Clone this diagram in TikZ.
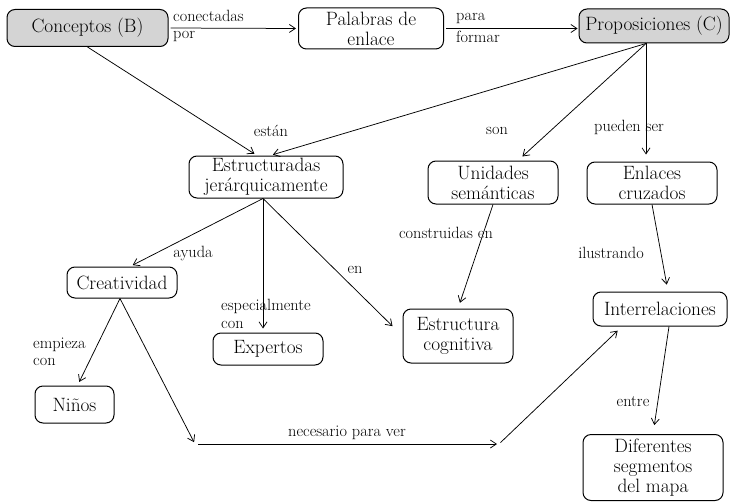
\documentclass[tikz,border=0pt]{standalone}
\usepackage{fontspec}
\usetikzlibrary{arrows.meta}

\begin{document}
\begin{tikzpicture}[x=1pt,y=-1pt,every node/.style={inner sep=1pt},
  box/.style={draw,rounded corners=8pt,line width=1pt,align=center,font=\fontsize{19.3}{20}\selectfont},
  keybox/.style={box,fill=black!17},
  lbl/.style={font=\fontsize{16.3}{17.5}\selectfont,align=left},
  arr/.style={-{Straight Barb[length=6pt,width=8pt]},line width=0.75pt}]
\useasboundingbox (0,0) rectangle (735,503);
\node[keybox,minimum width=161pt,minimum height=37pt] (conB) at (87.5,28) {Conceptos (B)};
\node[box,minimum width=145pt,minimum height=41pt] (palabras) at (371,28.5) {Palabras de\\enlace};
\node[keybox,minimum width=150pt,minimum height=34pt] (propC) at (654,26) {Proposiciones (C)};
\node[box,minimum width=154pt,minimum height=42pt] (estruct) at (266,177) {Estructuradas\\jerárquicamente};
\node[box,minimum width=130pt,minimum height=43pt] (unidades) at (493,182.5) {Unidades\\semánticas};
\node[box,minimum width=130pt,minimum height=42pt] (enlaces) at (652,183) {Enlaces\\cruzados};
\node[box,minimum width=110pt,minimum height=31pt] (creat) at (122,282.5) {Creatividad};
\node[box,minimum width=110pt,minimum height=32pt] (expertos) at (268,349) {Expertos};
\node[box,minimum width=110pt,minimum height=54pt] (cognitiva) at (458,336) {Estructura\\cognitiva};
\node[box,minimum width=134pt,minimum height=34pt] (interrel) at (660,309) {Interrelaciones};
\node[box,minimum width=79pt,minimum height=37pt] (ninos) at (74.5,404.5) {Niños};
\node[box,minimum width=140pt,minimum height=66pt] (diferentes) at (653,467.5) {Diferentes\\segmentos\\del mapa};

\coordinate (pc) at ([xshift=-8pt]propC.south);
\coordinate (es) at ([xshift=-3pt]estruct.south);
\coordinate (cs) at ([xshift=-2pt]creat.south);
\coordinate (nA) at (195,444);
\coordinate (nB) at (499,444);

\draw[arr,shorten <=2pt,shorten >=2pt] (conB.east) -- (palabras.west);
\draw[arr,shorten <=2pt,shorten >=1pt] (palabras.east) -- (palabras.east -| propC.west);
\draw[arr,shorten >=3pt] (conB.south) -- ([xshift=-9pt]estruct.north);
\draw[arr,shorten >=3pt] (pc) -- ([xshift=4pt]estruct.north);
\draw[arr,shorten >=6pt] (pc) -- ([xshift=25pt]unidades.north);
\draw[arr,shorten >=7pt] (pc) -- (pc |- enlaces.north);
\draw[arr,shorten >=3pt] (es) -- ([xshift=8pt]creat.north);
\draw[arr,shorten >=4pt] (es) -- (es |- expertos.north);
\draw[arr,shorten >=14pt] (es) -- (cognitiva.west);
\draw[arr,shorten >=6pt] (unidades.south) -- (cognitiva.north);
\draw[arr,shorten >=7pt] (enlaces.south) -- ([xshift=8pt]interrel.north);
\draw[arr,shorten >=9pt] ([xshift=9pt]interrel.south) -- (diferentes.north);
\draw[arr,shorten >=4pt] (cs) -- ([xshift=3pt]ninos.north);
\draw[arr,shorten >=2pt] (cs) -- (nA);
\draw[arr,shorten <=3pt,shorten >=2pt] (nA) -- (nB)
  node[midway,above=3pt,lbl] (lnec) {necesario para ver};
\draw[arr,shorten <=2pt,shorten >=6pt] (nB) -- ([xshift=-38pt]interrel.south);

\node[lbl,anchor=west] (lcon) at (172,26) {conectadas\\por};
\node[lbl,anchor=west] (lpara) at (455,28) {para\\[4pt]formar};
\node[lbl] (lestan) at (271,131) {están};
\node[lbl] (lson) at (497,131) {son};
\node[lbl,anchor=west] (lpueden) at (593,127) {pueden ser};
\node[lbl] (layuda) at (193,253) {ayuda};
\node[lbl,anchor=west] (lespec) at (220,314) {especialmente\\con};
\node[lbl] (len) at (355,270) {en};
\node[lbl] (lcons) at (446,233) {construidas en};
\node[lbl] (lilus) at (611,253) {ilustrando};
\node[lbl,anchor=west] (lemp) at (32,352) {empieza\\con};
\node[lbl] (lentre) at (633,402) {entre};
\end{tikzpicture}
\end{document}
